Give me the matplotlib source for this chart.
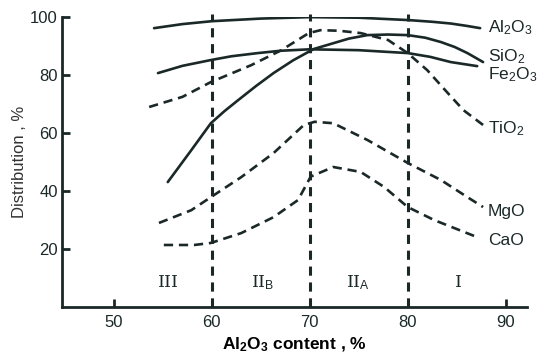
import matplotlib
matplotlib.use("Agg")
import matplotlib.pyplot as plt

plt.rcParams['font.family'] = ['Liberation Sans', 'DejaVu Sans']
plt.rcParams['mathtext.fontset'] = 'custom'
plt.rcParams['mathtext.rm'] = 'Liberation Sans'
plt.rcParams['mathtext.it'] = 'Liberation Sans:italic'
plt.rcParams['mathtext.bf'] = 'Liberation Sans:bold'

INK = '#1b2828'

# 曲线数据
x_al = [54.1, 57, 60, 65, 70, 75, 80, 82.5, 84.4, 86, 87.4]
y_al = [96.2, 97.6, 98.6, 99.5, 100, 99.8, 99.0, 98.4, 97.8, 97.0, 96.2]

x_si = [55.5, 57.9, 59.9, 61.3, 62.7, 64.5, 66.3, 68.3, 70.4, 72.4, 74, 75.9, 78, 80, 81.8, 83.4, 84.8, 86.1, 87.7]
y_si = [43.1, 54.1, 63.4, 67.6, 71.4, 76.2, 80.7, 85.1, 89.0, 91.0, 92.6, 93.8, 94.0, 93.8, 92.9, 91.4, 89.7, 87.6, 84.5]

x_fe = [54.5, 57, 59.9, 62, 64.7, 67, 70, 75, 80, 82.3, 84.4, 87.1]
y_fe = [80.7, 83.2, 85.2, 86.5, 87.6, 88.4, 88.9, 88.6, 87.6, 86.3, 84.5, 83.1]

x_ti = [53.6, 57, 59.9, 64, 67.1, 69.9, 71.1, 73, 75.2, 78, 80, 82, 84.1, 85.7, 87.7]
y_ti = [69.0, 72.5, 77.6, 83.4, 88.6, 94.5, 95.5, 95.3, 94.5, 92.1, 87.6, 81.7, 73.8, 67.9, 62.8]

x_mg = [54.6, 57.9, 59.9, 63, 66.3, 69.4, 70.5, 72.4, 75.9, 80, 83.4, 86.1, 87.7]
y_mg = [29.0, 33.4, 37.9, 44.8, 53.1, 62.8, 63.9, 63.4, 57.6, 49.7, 43.8, 37.9, 34.5]

x_ca = [55.1, 58.2, 59.9, 63, 66.3, 68.8, 70.1, 72.4, 75.2, 77.6, 80, 82.7, 87.1]
y_ca = [21.4, 21.4, 22.1, 25.5, 31.0, 36.9, 45.0, 48.3, 46.6, 41.4, 34.5, 30.0, 24.1]

zone_bounds = [60, 70, 80]
zone_x = [55.6, 65.2, 74.9, 85.2]
zone_labels = ['III', 'II$_\\mathrm{B}$', 'II$_\\mathrm{A}$', 'I']

curve_names = ['Al$_2$O$_3$', 'SiO$_2$', 'Fe$_2$O$_3$', 'TiO$_2$', 'MgO', 'CaO']
label_y = [96.5, 86.2, 80.0, 61.7, 32.8, 22.8]

fig = plt.figure(figsize=(5.44, 3.57), dpi=100)
ax = fig.add_axes([0.114, 0.140, 0.855, 0.812])

# 实线
for xs, ys in [(x_al, y_al), (x_si, y_si), (x_fe, y_fe)]:
    ax.plot(xs, ys, color=INK, lw=1.9, solid_capstyle='round', solid_joinstyle='round')

# 虚线
for xs, ys in [(x_ti, y_ti), (x_mg, y_mg), (x_ca, y_ca)]:
    ax.plot(xs, ys, color=INK, lw=1.9, dashes=(3.5, 2.2))

# 分区竖线
for xb in zone_bounds:
    ax.plot([xb, xb], [0, 101], color=INK, lw=2.2, dashes=(3.0, 2.2), clip_on=False)

for xz, lab in zip(zone_x, zone_labels):
    ax.text(xz, 8.3, lab, ha='center', va='center', fontsize=12.5,
            family=['DejaVu Serif'], color=INK)

for name, ly in zip(curve_names, label_y):
    ax.text(88.2, ly, name, ha='left', va='center', fontsize=12.5, color=INK,
            clip_on=False)

ax.set_xlim(44.7, 92.2)
ax.set_ylim(0, 100)
ax.set_xticks([50, 60, 70, 80, 90])
ax.set_yticks([20, 40, 60, 80, 100])

for s in ['top', 'right']:
    ax.spines[s].set_visible(False)
for s in ['left', 'bottom']:
    ax.spines[s].set_linewidth(2.0)
    ax.spines[s].set_color(INK)

ax.tick_params(direction='in', length=6, width=2, colors=INK, labelsize=12, pad=6)
ax.tick_params(axis='y', pad=3)

ax.set_ylabel('Distribution , %', fontsize=12, color='#333333', labelpad=2)
ax.set_xlabel('Al$_\\mathbf{2}$O$_\\mathbf{3}$ content , %', fontsize=12.5,
              fontweight='bold', color='black', labelpad=4)

fig.savefig('out.png', dpi=100)
